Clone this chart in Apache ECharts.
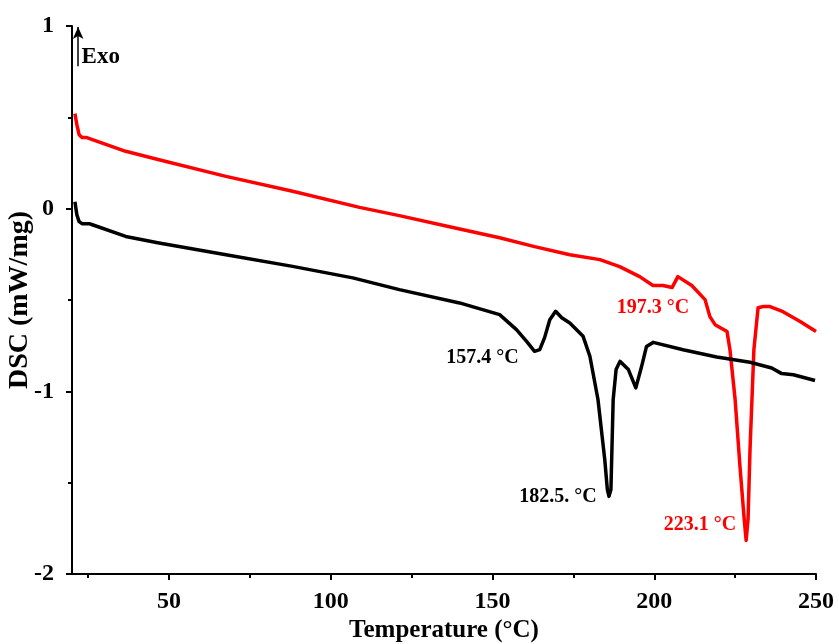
<!DOCTYPE html>
<html>
<head>
<meta charset="utf-8">
<script src="https://cdn.jsdelivr.net/npm/echarts@6/dist/echarts.min.js"></script>
<style>
html,body{margin:0;padding:0;background:#fff;}
#chart{width:839px;height:644px;}
</style>
</head>
<body>
<div id="chart"></div>
<script>
// Red curve (DSC vs temperature)
var redTemp = [20.9,21.5,22.2,23.1,24.6,26.3,36.6,46.9,67.6,88.2,108.9,121.2,136.7,152.2,163,173.9,183.2,189.3,195.5,199.6,202.7,205.5,207.3,211.6,215.7,217.2,218.8,222.5,223.4,225,226.5,227.8,228.4,229,229.6,230.8,232.1,233.7,235.8,239.8,245.1,250];
var redDsc  = [0.52,0.46,0.405,0.389,0.389,0.378,0.314,0.268,0.177,0.095,0.007,-0.038,-0.099,-0.159,-0.208,-0.252,-0.279,-0.317,-0.372,-0.421,-0.421,-0.432,-0.372,-0.421,-0.498,-0.591,-0.635,-0.673,-0.772,-1.045,-1.412,-1.70,-1.816,-1.70,-1.319,-0.772,-0.542,-0.536,-0.536,-0.564,-0.618,-0.673];
// Black curve
var blackTemp = [20.9,21.5,22.2,23.1,25.3,26.3,36.6,46.9,67.6,88.2,106.8,121.2,139.8,152.2,157.4,160.6,163,164.6,166.1,167.7,169.5,171.4,173.9,178,180.1,182.6,184.7,185.5,186,186.6,187.3,188.2,189.4,192,194.3,196.1,197.6,199.7,208.9,219.3,229.6,236.3,239.4,243,249.7];
var blackDsc  = [0.038,-0.033,-0.071,-0.082,-0.082,-0.088,-0.152,-0.188,-0.252,-0.316,-0.379,-0.443,-0.516,-0.580,-0.662,-0.728,-0.781,-0.772,-0.706,-0.608,-0.562,-0.597,-0.626,-0.699,-0.808,-1.045,-1.374,-1.538,-1.575,-1.538,-1.045,-0.881,-0.836,-0.881,-0.981,-0.863,-0.754,-0.732,-0.772,-0.812,-0.841,-0.872,-0.903,-0.909,-0.941];
// Tick values
var xMajorTicks = [50,100,150,200,250];
var xMinorTicks = [25,75,125,175,225];
// Annotations
var annoText  = ['157.4 °C','182.5. °C','197.3 °C','223.1 °C'];
var annoTemp  = [146.9,170.2,199.6,214.1];
var annoDsc   = [-0.816,-1.576,-0.542,-1.73];
var annoColor = ['#000000','#000000','#ff0000','#ff0000'];
var exoArrow = {temp:21.9, from:0.78, to:0.995};
var exoLabel = {text:'Exo', temp:22.8, dsc:0.832};

function pairs(xs, ys){ return xs.map(function(x,i){ return [x, ys[i]]; }); }

var font = 'Liberation Serif';
var annoData = annoText.map(function(t,i){
  return {
    coord:[annoTemp[i], annoDsc[i]],
    label:{show:true, formatter:t, color:annoColor[i], position:'inside',
      fontFamily:font, fontWeight:'bold', fontSize:20}
  };
});
annoData.push({
  coord:[exoLabel.temp, exoLabel.dsc],
  label:{show:true, formatter:exoLabel.text, color:'#000', position:'right', distance:0,
    fontFamily:font, fontWeight:'bold', fontSize:23}
});

var chart = echarts.init(document.getElementById('chart'), null, {renderer:'canvas'});
chart.setOption({
  animation:false,
  backgroundColor:'#ffffff',
  grid:{left:72, right:23, top:26, bottom:70, containLabel:false, outerBoundsMode:'none'},
  xAxis:[{
    type:'value', min:20, max:250,
    name:'Temperature (°C)', nameLocation:'middle', nameGap:44, nameMoveOverlap:false,
    nameTextStyle:{fontFamily:font, fontWeight:'bold', fontSize:25, color:'#000'},
    axisLine:{show:true, onZero:false, lineStyle:{color:'#000', width:2}},
    axisTick:{show:true, inside:false, length:6, lineStyle:{color:'#000', width:2}, customValues:xMajorTicks},
    axisLabel:{show:true, margin:16, fontFamily:font, fontWeight:'bold', fontSize:24, color:'#000', customValues:xMajorTicks},
    splitLine:{show:false}
  },{
    type:'value', min:20, max:250, position:'bottom',
    axisLine:{show:false, onZero:false},
    axisTick:{show:true, inside:false, length:4, lineStyle:{color:'#000', width:2}, customValues:xMinorTicks},
    axisLabel:{show:false},
    splitLine:{show:false}
  }],
  yAxis:{
    type:'value', min:-2, max:1, interval:1,
    name:'DSC (mW/mg)', nameLocation:'middle', nameGap:38, nameMoveOverlap:false,
    nameTextStyle:{fontFamily:font, fontWeight:'bold', fontSize:28, color:'#000'},
    axisLine:{show:true, onZero:false, lineStyle:{color:'#000', width:2}},
    axisTick:{show:true, inside:false, length:6, lineStyle:{color:'#000', width:2}},
    minorTick:{show:true, splitNumber:2, length:4, lineStyle:{color:'#000', width:2}},
    axisLabel:{margin:18, fontFamily:font, fontWeight:'bold', fontSize:24, color:'#000'},
    splitLine:{show:false}, minorSplitLine:{show:false}
  },
  series:[{
    name:'red', type:'line', xAxisIndex:0, showSymbol:false, symbol:'none',
    data:pairs(redTemp, redDsc),
    lineStyle:{color:'#ff0000', width:3.5, join:'round'},
    itemStyle:{color:'#ff0000'}
  },{
    name:'black', type:'line', xAxisIndex:0, showSymbol:false, symbol:'none',
    data:pairs(blackTemp, blackDsc),
    lineStyle:{color:'#000000', width:3.5, join:'round'},
    itemStyle:{color:'#000000'},
    markPoint:{
      symbol:'circle', symbolSize:1, itemStyle:{color:'rgba(0,0,0,0)'},
      silent:true, data:annoData
    },
    markLine:{
      silent:true, symbol:['none','arrow'], symbolSize:[8,12],
      label:{show:false},
      lineStyle:{color:'#000', width:1.5, type:'solid'},
      data:[[{coord:[exoArrow.temp, exoArrow.from]},{coord:[exoArrow.temp, exoArrow.to]}]]
    }
  }]
});
</script>
</body>
</html>
